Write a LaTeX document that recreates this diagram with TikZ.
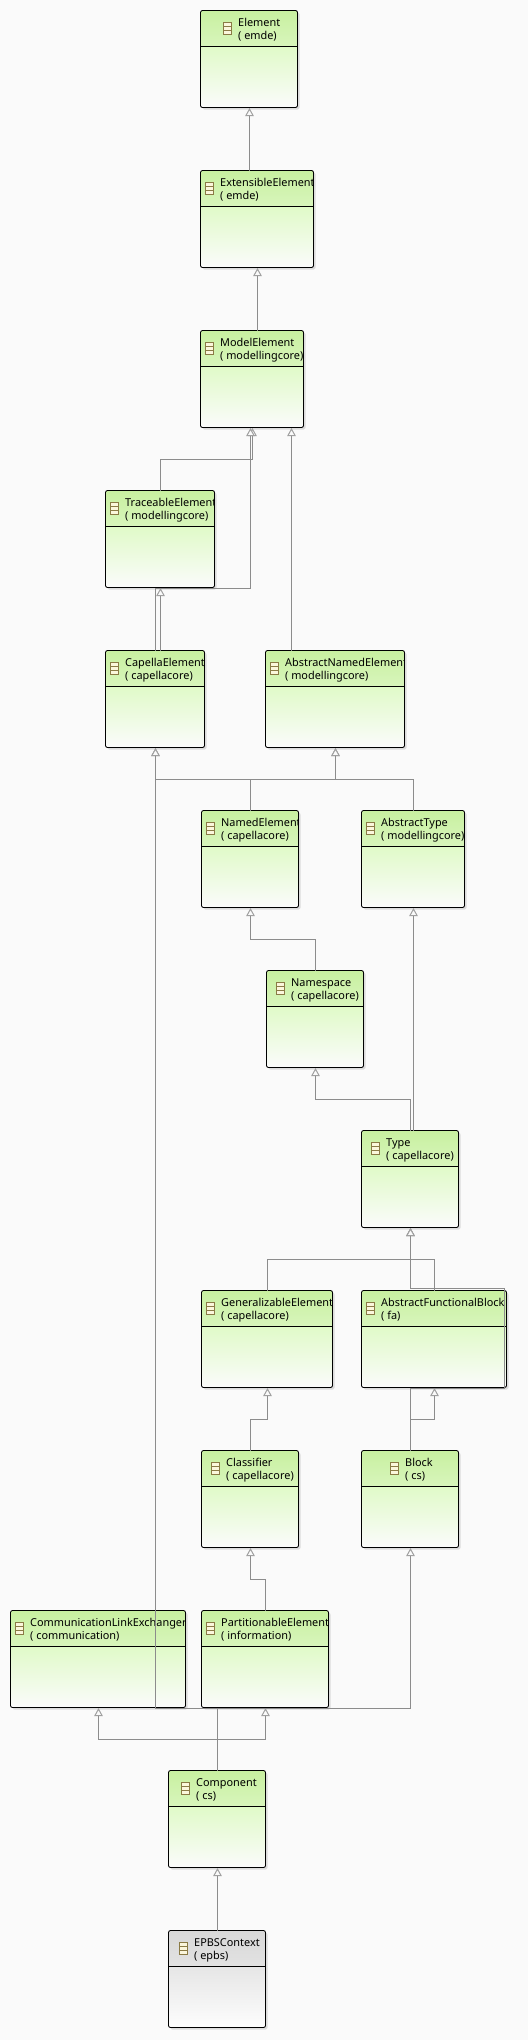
\documentclass[tikz,border=0pt]{standalone}
\usepackage{fontspec}
\setmainfont{Noto Sans}
\usetikzlibrary{arrows.meta}
\definecolor{pagebg}{HTML}{FAFAFA}
\definecolor{linkgray}{HTML}{8C8C8C}
\definecolor{tipgray}{HTML}{A0A0A0}
\definecolor{shadowgray}{HTML}{DCDCDC}
\definecolor{iconedge}{HTML}{8A7A45}
\definecolor{iconfill}{HTML}{FBF6DC}
\definecolor{greenA}{HTML}{C8F0A0}
\definecolor{greenB}{HTML}{D8F5BC}
\definecolor{greenC}{HTML}{E0FAC8}
\definecolor{greenD}{HTML}{FBFBFB}
\definecolor{greyA}{HTML}{D8D8D8}
\definecolor{greyB}{HTML}{E2E2E2}
\definecolor{greyC}{HTML}{E6E6E6}
\definecolor{greyD}{HTML}{FDFDFD}
\tikzset{
  classbox/.style={anchor=north west, minimum height=97pt, inner sep=0, outer sep=0},
  classtext/.style={anchor=north west, inner sep=0, align=left, font=\fontsize{10.9}{13}\selectfont},
  gen/.style={draw=linkgray, line width=1pt, shorten >=.5pt, -{Triangle[length=8pt,width=8.5pt,fill=pagebg,color=tipgray]}}
}
\begin{document}
\begin{tikzpicture}[x=1pt,y=-1pt]
\useasboundingbox (0,0) rectangle (528,2040);
\fill[pagebg] (0,0) rectangle (528,2040);
\foreach \name/\x/\y/\w/\ico/\title/\pkg/\col in {
 Element/200.5/10.5/97/23/Element/( emde)/green,
 Extensible/200.5/170.5/113/5/ExtensibleElement/( emde)/green,
 Model/200.5/330.5/103/5/ModelElement/( modellingcore)/green,
 Traceable/105.5/490.5/109/5/TraceableElement/( modellingcore)/green,
 Capella/105.5/650.5/99/5/CapellaElement/( capellacore)/green,
 AbstractNamed/265.5/650.5/139/5/AbstractNamedElement/( modellingcore)/green,
 Named/201.5/810.5/97/5/NamedElement/( capellacore)/green,
 AbstractType/361.5/810.5/103/5/AbstractType/( modellingcore)/green,
 Namespace/266.5/970.5/97/10/Namespace/( capellacore)/green,
 Type/361.5/1130.5/97/10/Type/( capellacore)/green,
 Generalizable/201.5/1290.5/131/5/GeneralizableElement/( capellacore)/green,
 AFB/361.5/1290.5/145/5/AbstractFunctionalBlock/( fa)/green,
 Classifier/201.5/1450.5/97/10/Classifier/( capellacore)/green,
 Block/361.5/1450.5/97/29/Block/( cs)/green,
 Comm/10.5/1610.5/175/5/CommunicationLinkExchanger/( communication)/green,
 Partition/201.5/1610.5/127/5/PartitionableElement/( information)/green,
 Component/168.5/1770.5/97/13/Component/( cs)/green,
 EPBS/168.5/1930.5/97/11/EPBSContext/( epbs)/grey} {
 \fill[shadowgray, rounded corners=2pt] (\x+2,\y+2) rectangle ++(\w,97);
 \node[classbox, minimum width=\w pt] (\name) at (\x,\y) {};
 \begin{scope}
  \clip[rounded corners=2pt] (\name.north west) rectangle (\name.south east);
  \shade[top color=\col A, bottom color=\col B] (\name.north west) rectangle ([yshift=-36pt]\name.north east);
  \shade[top color=\col C, bottom color=\col D] ([yshift=-36pt]\name.north west) rectangle (\name.south east);
  \node[classtext] (\name-text) at (\x+\ico+14.5,\y+7) {\rule{0pt}{9pt}\title\\\pkg};
 \end{scope}
 \draw[black, line width=.85pt, rounded corners=2pt] (\name.north west) rectangle (\name.south east);
 \draw[black, line width=.85pt] ([yshift=-36pt]\name.north west) -- ([yshift=-36pt]\name.north east);
 \draw[iconedge, fill=iconfill, line width=.9pt] (\x+\ico,\y+12) rectangle ++(8,12);
 \draw[iconedge, line width=.6pt] (\x+\ico,\y+16) -- ++(8,0) (\x+\ico,\y+20) -- ++(8,0);
}
\foreach \from/\fx/\to/\tx in {Extensible/49/Element/49, Model/57/Extensible/57, Capella/55/Traceable/55,
 AbstractNamed/26/Model/91, Type/52/AbstractType/52, EPBS/49/Component/49} {
 \draw[gen] ([xshift=\fx pt]\from.north west) -- ([xshift=\tx pt]\to.south west);
}
\foreach \from/\fx/\to/\tx in {Traceable/55/Model/52, Named/49/Capella/50, Named/49/AbstractNamed/70,
 AbstractType/52/AbstractNamed/70, Namespace/49/Named/49, Type/49/Namespace/49, Generalizable/66/Type/49,
 AFB/73/Type/49, Block/49/AFB/73, Classifier/49/Generalizable/66, Partition/64/Classifier/49,
 Component/49/Comm/88, Component/49/Partition/64} {
 \draw[gen] ([xshift=\fx pt]\from.north west) -- ++(0,-31) -| ([xshift=\tx pt]\to.south west);
}
\foreach \from/\fx/\to/\tx in {Capella/50/Model/50, Component/49/Capella/50, Component/49/Block/49} {
 \draw[gen] ([xshift=\fx pt]\from.north west) -- ++(0,-62) -| ([xshift=\tx pt]\to.south west);
}
\draw[gen] ([xshift=49pt]Block.north west) -- ++(0,-62) -- ++(94,0) -- ++(0,-100) -| ([xshift=49pt]Type.south west);
\end{tikzpicture}
\end{document}
